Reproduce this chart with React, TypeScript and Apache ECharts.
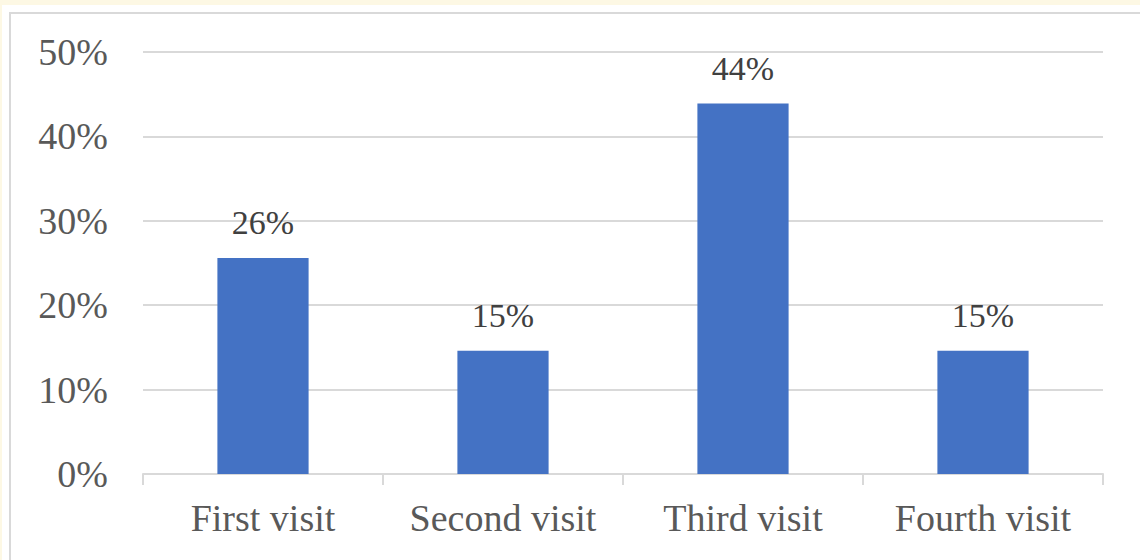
import React, { useEffect, useRef } from "react";
import * as echarts from "echarts";

const categories = ["First visit", "Second visit", "Third visit", "Fourth visit"];
const shares = [25.6, 14.6, 43.9, 14.6];
const yTicks = [0, 10, 20, 30, 40, 50];

export default function App() {
  const ref = useRef<HTMLDivElement>(null);
  useEffect(() => {
    if (!ref.current) return;
    const chart = echarts.init(ref.current, undefined, { renderer: "svg" });
    chart.setOption({
      animation: false,
      grid: { left: 143, right: 37, top: 52, bottom: 86, containLabel: false },
      xAxis: {
        type: "category",
        data: categories,
        axisLine: { show: true, lineStyle: { color: "#d9d9d9", width: 2 } },
        axisTick: { show: true, length: 11, alignWithLabel: false, lineStyle: { color: "#d9d9d9", width: 2 } },
        axisLabel: {
          interval: 0,
          color: "#595959",
          fontFamily: "Liberation Serif",
          fontSize: 38,
          margin: 25,
        },
      },
      yAxis: {
        type: "value",
        min: yTicks[0],
        max: yTicks[yTicks.length - 1],
        interval: 10,
        axisLine: { show: false },
        axisTick: { show: false },
        splitLine: { lineStyle: { color: "#d9d9d9", width: 2 } },
        axisLabel: {
          color: "#595959",
          fontFamily: "Liberation Serif",
          fontSize: 38,
          margin: 35,
          formatter: (v: number) => `${v}%`,
        },
      },
      series: [
        {
          type: "bar",
          data: shares,
          barWidth: "38%",
          itemStyle: { color: "#4472c4" },
          label: {
            show: true,
            position: "top",
            distance: 18,
            color: "#404040",
            fontFamily: "Liberation Serif",
            fontSize: 34,
            formatter: (p: any) => `${Math.round(p.value)}%`,
          },
        },
      ],
    });
    return () => chart.dispose();
  }, []);

  return (
    <div style={{ position: "absolute", left: 0, top: 0, width: 1140, height: 560, background: "#fdf8e4", overflow: "hidden" }}>
      <div style={{ position: "absolute", left: 2, top: 5, width: 1138, height: 555, background: "#ffffff" }} />
      <div style={{ position: "absolute", left: 9, top: 12, width: 1160, height: 600, border: "2px solid #d9d9d9", boxSizing: "border-box" }} />
      <div ref={ref} style={{ position: "absolute", left: 0, top: 0, width: 1140, height: 560 }} />
    </div>
  );
}
